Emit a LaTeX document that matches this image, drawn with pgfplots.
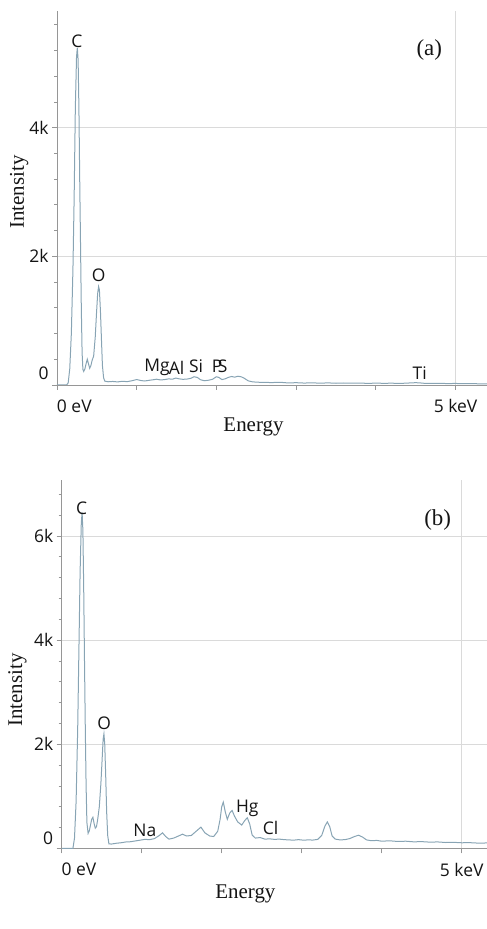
\documentclass[border=0pt]{standalone}
\usepackage{pgfplots}
\pgfplotsset{compat=1.18}
\usepackage{fontspec}
\setmainfont{Liberation Serif}
\newfontfamily\uifont{Open Sans}

\definecolor{spec}{RGB}{136,164,180}
\definecolor{axisgray}{RGB}{150,150,150}
\definecolor{gridgray}{RGB}{218,218,218}
\definecolor{ink}{RGB}{20,20,20}

\pgfplotsset{
  eds/.style={
    scale only axis,
    axis x line*=bottom, axis y line*=left,
    axis line style={axisgray, line width=0.8bp},
    tick align=outside,
    major tick length=5bp, minor tick length=3bp,
    tick style={axisgray, line width=0.7bp},
    xmin=0, ymin=0,
    xtick={0,1,2,3,4,5},
    xticklabels={\makebox[0pt][l]{0 eV},,,,,5 keV},
    xticklabel style={yshift=-6bp},
    ymajorgrids, major grid style={gridgray, line width=0.7bp},
    ticklabel style={font=\uifont\fontsize{17.5}{20}\selectfont, text=ink},
    label style={font=\fontsize{21}{25}\selectfont, text=ink},
    xlabel={Energy}, ylabel={Intensity},
  },
  spectrum/.style={spec, line width=1bp, no markers},
}
\tikzset{
  peak/.style={font=\uifont\fontsize{17.5}{20}\selectfont, text=ink, inner sep=0pt},
  panel/.style={font=\fontsize{23}{27}\selectfont, text=ink, inner sep=0pt},
}

\begin{document}
\begin{tikzpicture}
\useasboundingbox (0,0) rectangle (487bp,929bp);

% ---------------- (a) ----------------
\begin{axis}[eds,
  at={(57bp,544bp)}, anchor=south west,
  width=430bp, height=374bp,
  xmax=5.395, ymax=5812,
  ytick={0,2000,4000},
  yticklabels={{\smash{\raisebox{5bp}{0}}},2k,4k},
  minor ytick={400,800,1200,1600,2400,2800,3200,3600,4400,4800,5200,5600},
  xlabel style={at={(axis description cs:0.457,-0.112)}, anchor=center},
  ylabel style={at={(axis description cs:-0.088,0.516)}, anchor=center},
]
\draw[gridgray, line width=0.7bp] (axis cs:5,0) -- (axis cs:5,5812);
\addplot[spectrum] table {
0.000 0
0.120 0
0.140 30
0.160 250
0.180 800
0.200 1800
0.215 2900
0.230 4300
0.245 5100
0.255 5240
0.265 5050
0.275 4300
0.285 3200
0.295 2200
0.305 1200
0.315 500
0.325 240
0.335 210
0.350 250
0.365 330
0.380 400
0.395 330
0.410 260
0.425 300
0.440 380
0.460 450
0.480 750
0.495 1100
0.510 1420
0.522 1530
0.532 1480
0.545 1150
0.558 700
0.570 300
0.585 110
0.600 60
0.640 50
0.700 55
0.760 48
0.820 58
0.880 52
0.940 66
1.000 85
1.050 70
1.100 62
1.150 72
1.200 80
1.250 90
1.300 78
1.350 84
1.400 95
1.450 90
1.490 108
1.530 96
1.580 88
1.630 92
1.680 104
1.720 128
1.760 118
1.800 82
1.850 66
1.900 74
1.950 88
2.000 128
2.030 118
2.070 84
2.110 96
2.150 118
2.190 132
2.230 122
2.270 136
2.310 128
2.350 104
2.400 64
2.450 50
2.500 44
2.600 40
2.700 38
2.800 42
2.900 32
3.000 36
3.100 30
3.200 34
3.300 28
3.400 33
3.500 27
3.600 31
3.700 28
3.800 30
3.900 25
4.000 29
4.100 26
4.200 28
4.300 24
4.400 30
4.500 36
4.550 33
4.600 27
4.700 24
4.800 26
4.900 22
5.000 24
5.100 20
5.200 22
5.300 18
5.395 17
};
\node[peak] at (axis cs:0.25,5335) {C};
\node[peak] at (axis cs:0.523,1710) {O};
\node[peak] at (axis cs:1.255,270) {Mg};
\node[peak] at (axis cs:1.50,270) {Al};
\node[peak] at (axis cs:1.745,285) {Si};
\node[peak] at (axis cs:2.01,285) {P};
\node[peak] at (axis cs:2.08,285) {S};
\node[peak] at (axis cs:4.55,190) {Ti};
\node[panel] at (axis cs:4.67,5210) {(a)};
\end{axis}

% ---------------- (b) ----------------
\begin{axis}[eds,
  at={(61.7bp,80.5bp)}, anchor=south west,
  width=425.3bp, height=368.5bp,
  xmax=5.316, ymax=7073,
  ytick={0,2000,4000,6000},
  yticklabels={{\smash{\raisebox{4bp}{0}}},2k,4k,6k},
  minor ytick={400,800,1200,1600,2400,2800,3200,3600,4400,4800,5200,5600,6400,6800},
  xlabel style={at={(axis description cs:0.432,-0.122)}, anchor=center},
  ylabel style={at={(axis description cs:-0.104,0.43)}, anchor=center},
]
\draw[gridgray, line width=0.7bp] (axis cs:5,0) -- (axis cs:5,7073);
\addplot[spectrum] table {
0.000 0
0.140 0
0.160 200
0.180 900
0.200 2300
0.215 3800
0.230 5300
0.245 6250
0.255 6450
0.265 6100
0.275 5000
0.285 3600
0.295 2300
0.305 1200
0.315 500
0.330 290
0.345 340
0.360 450
0.375 560
0.390 600
0.405 480
0.420 390
0.435 420
0.450 560
0.470 800
0.490 1250
0.505 1700
0.518 2100
0.528 2200
0.538 2000
0.550 1400
0.562 700
0.575 250
0.590 90
0.620 85
0.680 100
0.740 110
0.800 125
0.860 130
0.920 145
0.980 160
1.040 175
1.100 170
1.160 190
1.220 250
1.260 300
1.300 230
1.340 180
1.400 200
1.460 240
1.510 275
1.560 240
1.620 250
1.680 330
1.740 410
1.790 300
1.850 240
1.900 230
1.950 330
1.980 560
2.000 800
2.020 890
2.045 700
2.070 560
2.100 680
2.130 730
2.160 620
2.200 510
2.250 450
2.290 540
2.320 590
2.350 470
2.380 260
2.420 200
2.480 210
2.540 180
2.600 185
2.660 175
2.720 180
2.780 170
2.840 165
2.900 160
2.960 170
3.020 160
3.080 165
3.140 162
3.200 175
3.250 250
3.290 430
3.320 510
3.350 420
3.380 240
3.420 180
3.480 165
3.540 170
3.600 190
3.660 230
3.710 255
3.760 220
3.810 165
3.870 150
3.940 155
4.000 140
4.100 148
4.200 135
4.300 140
4.400 128
4.500 132
4.600 122
4.700 126
4.800 115
4.900 118
5.000 110
5.100 112
5.200 104
5.316 106
};
\node[peak] at (axis cs:0.25,6530) {C};
\node[peak] at (axis cs:0.53,2400) {O};
\node[peak] at (axis cs:1.04,350) {Na};
\node[peak] at (axis cs:2.32,770) {Hg};
\node[peak] at (axis cs:2.61,400) {Cl};
\node[panel] at (axis cs:4.70,6310) {(b)};
\end{axis}
\end{tikzpicture}
\end{document}
